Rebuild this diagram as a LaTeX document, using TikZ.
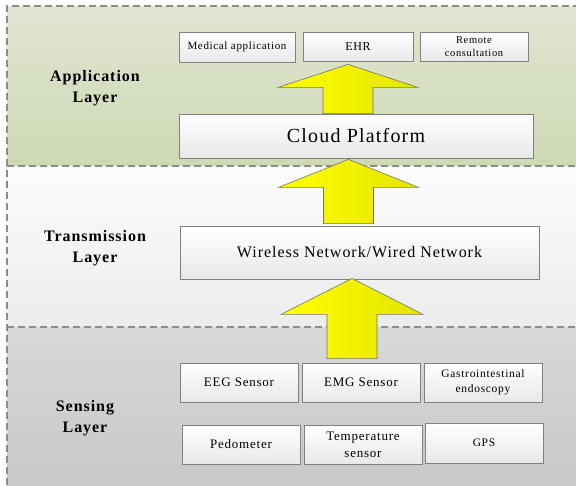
\documentclass[tikz,border=0pt]{standalone}
\usepackage{fontspec}
\setmainfont[LetterSpace=6]{Liberation Serif}
\usetikzlibrary{calc,shadows}
\definecolor{apptop}{RGB}{224,229,210}
\definecolor{appbot}{RGB}{206,217,180}
\definecolor{trtop}{RGB}{252,252,252}
\definecolor{trbot}{RGB}{236,236,236}
\definecolor{setop}{RGB}{216,216,216}
\definecolor{sebot}{RGB}{200,200,200}
\definecolor{yelA}{RGB}{255,255,0}
\definecolor{yelB}{RGB}{228,228,0}
\begin{document}
\begin{tikzpicture}[x=1pt,y=-1pt,
  layerline/.style={draw=black!45, dash pattern=on 7pt off 4pt, line width=1.1pt},
  box/.style={draw=black!50, line width=0.8pt, top color=white, bottom color=black!9,
    drop shadow={shadow xshift=1pt,shadow yshift=-1pt,opacity=0.25},
    inner sep=0pt, align=center},
  bigarrow/.style={draw=black!55, line width=0.6pt, left color=yelA, right color=yelB},
  lab/.style={font=\fontsize{16}{21}\selectfont\bfseries, align=center}]
\useasboundingbox (0,0) rectangle (576,485);
% layers
\fill[top color=apptop, bottom color=appbot] (7,6) rectangle (580,165);
\fill[top color=trtop, bottom color=trbot] (7,166) rectangle (580,327);
\fill[top color=setop, bottom color=sebot] (7,327) rectangle (580,490);
\draw[layerline] (580,6) -- (7,6) -- (7,490);
\draw[layerline] (7,166) -- (580,166);
\draw[layerline] (7,327) -- (580,327);
% labels
\node[lab] (lapp) at (95,88) {Application\\Layer};
\node[lab] (ltr) at (95,248) {Transmission\\Layer};
\node[lab] (lse) at (85,418) {Sensing\\Layer};
% application boxes
\node[box, minimum width=116pt, minimum height=30pt, font=\fontsize{11}{13}\selectfont] (med) at (237,47) {Medical application};
\node[box, minimum width=110pt, minimum height=29pt, font=\fontsize{12}{14}\selectfont] (ehr) at (358,46.5) {EHR};
\node[box, minimum width=108pt, minimum height=29pt, font=\fontsize{10.5}{13}\selectfont] (rem) at (474,46.5) {Remote\\consultation};
\node[box, minimum width=354pt, minimum height=44pt, font=\fontsize{20}{24}\selectfont] (cloud) at (356,136) {Cloud Platform};
% transmission
\node[box, minimum width=359pt, minimum height=53pt, font=\fontsize{16}{19}\selectfont] (net) at (359.5,252.5) {Wireless Network/Wired Network};
% sensing
\node[box, minimum width=118pt, minimum height=39pt, font=\fontsize{13}{15}\selectfont] (eeg) at (239,382.5) {EEG Sensor};
\node[box, minimum width=118pt, minimum height=39pt, font=\fontsize{13}{15}\selectfont] (emg) at (361,382.5) {EMG Sensor};
\node[box, minimum width=118pt, minimum height=39pt, font=\fontsize{11.5}{15}\selectfont] (gas) at (483,382.5) {Gastrointestinal\\endoscopy};
\node[box, minimum width=118pt, minimum height=39pt, font=\fontsize{13}{15}\selectfont] (ped) at (241,444.5) {Pedometer};
\node[box, minimum width=118pt, minimum height=39pt, font=\fontsize{13}{17}\selectfont] (tem) at (363,444.5) {Temperature\\sensor};
\node[box, minimum width=118pt, minimum height=40pt, font=\fontsize{11.5}{14}\selectfont] (gps) at (484,443) {GPS};
% arrows
\coordinate (c1) at (348,0);
\coordinate (c2) at (348.5,0);
\coordinate (c3) at (352,0);
\draw[bigarrow] ($(c1 |- cloud.north)+(-25,0)$) -- ($(c1 |- ehr.south)+(-25,26)$) -- ($(c1 |- ehr.south)+(-70,26)$)
  -- ($(c1 |- ehr.south)+(0,3)$) -- ($(c1 |- ehr.south)+(70,26)$) -- ($(c1 |- ehr.south)+(25,26)$)
  -- ($(c1 |- cloud.north)+(25,0)$) -- cycle;
\draw[bigarrow] ($(c2 |- net.north)+(-25,-2)$) -- ($(c2 |- cloud.south)+(-25,29)$) -- ($(c2 |- cloud.south)+(-70,29)$)
  -- ($(c2 |- cloud.south)+(0,1)$) -- ($(c2 |- cloud.south)+(70,29)$) -- ($(c2 |- cloud.south)+(25,29)$)
  -- ($(c2 |- net.north)+(25,-2)$) -- cycle;
\draw[bigarrow] ($(c3 |- emg.north)+(-25,-4)$) -- ($(c3 |- net.south)+(-25,35)$) -- ($(c3 |- net.south)+(-71,35)$)
  -- ($(c3 |- net.south)+(0,-1)$) -- ($(c3 |- net.south)+(71,35)$) -- ($(c3 |- net.south)+(25,35)$)
  -- ($(c3 |- emg.north)+(25,-4)$) -- cycle;
\end{tikzpicture}
\end{document}
